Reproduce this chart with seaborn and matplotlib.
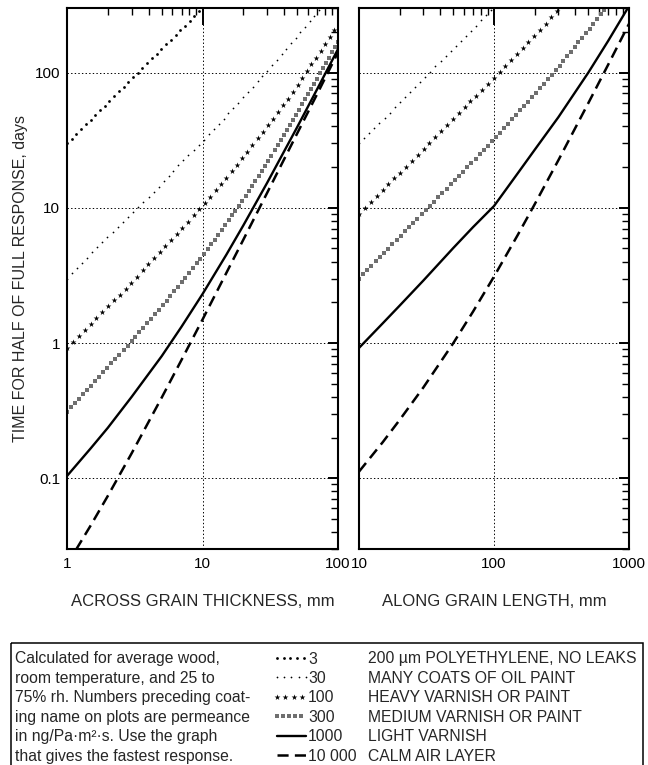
import numpy as np
import matplotlib
matplotlib.use("Agg")
import matplotlib.pyplot as plt
import matplotlib.colors as mcolors
import seaborn as sns
from matplotlib.patheffects import AbstractPathEffect
from matplotlib.markers import MarkerStyle
from matplotlib.path import Path
from matplotlib.transforms import Affine2D, IdentityTransform
from matplotlib.ticker import NullFormatter
from matplotlib.patches import Rectangle

# ---------------- data ----------------
across_x = [1, 1.5, 2, 3, 5, 7, 10, 15, 20, 30, 50, 70, 100]          # mm
t3_across = [30, 45, 60, 90, 150, 210, 300, 450]
t30_across = [3.0, 4.6, 6.1, 9.1, 15, 22, 31, 48, 66, 103, 185, 280, 440]
t100_across = [0.92, 1.38, 1.86, 2.8, 4.9, 7.0, 10.4, 16.7, 24, 40, 80, 132, 230]
t300_across = [0.31, 0.48, 0.66, 1.03, 1.85, 2.8, 4.4, 7.6, 11.6, 21.6, 50, 90, 170]
t1000_across = [0.104, 0.167, 0.236, 0.40, 0.80, 1.32, 2.3, 4.5, 7.4, 15.3, 39.5, 75, 149]
t10000_across = [0.023, 0.045, 0.074, 0.153, 0.395, 0.75, 1.49, 3.3, 5.8, 12.9, 35.5, 69, 141]

along_x = [10, 15, 20, 30, 50, 70, 100, 150, 200, 300, 500, 700, 1000]  # mm
t30_along = [30, 45, 60, 90, 151, 211, 302, 460]
t100_along = [9.0, 13.5, 18.1, 27.2, 45.6, 64, 92, 140, 189, 290, 505]
t300_along = [3.0, 4.55, 6.1, 9.2, 15.6, 22.1, 32, 50, 69, 110, 205, 318]
t1000_along = [0.92, 1.4, 1.89, 2.9, 5.05, 7.2, 10.3, 18.0, 26.8, 46.8, 100, 171, 310]
t10000_along = [0.112, 0.185, 0.27, 0.47, 1.0, 1.71, 3.1, 6.3, 10.6, 22.5, 59.5, 114, 229]

permeances = ["3", "30", "100", "300", "1000", "10 000"]
coatings = ["200 \u00b5m POLYETHYLENE, NO LEAKS", "MANY COATS OF OIL PAINT",
            "HEAVY VARNISH OR PAINT", "MEDIUM VARNISH OR PAINT",
            "LIGHT VARNISH", "CALM AIR LAYER"]
note_lines = ["Calculated for average wood,", "room temperature, and 25 to",
              "75% rh. Numbers preceding coat-", "ing name on plots are permeance",
              "in ng/Pa\u00b7m\u00b2\u00b7s. Use the graph",
              "that gives the fastest response."]
x_ticks_across = [1, 10, 100]
x_ticks_along = [10, 100, 1000]
y_ticks = [0.1, 1, 10, 100]
y_tick_labels = ["0.1", "1", "10", "100"]


# ---------------- marker-along-path effect (style only) ----------------
class MarkersAlong(AbstractPathEffect):
    def __init__(self, marker, spacing, size, color):
        super().__init__()
        self._marker = marker
        self._spacing = spacing
        self._size = size
        self._color = color

    def draw_path(self, renderer, gc, tpath, affine, rgbFace=None):
        verts = affine.transform(tpath.vertices)
        verts = verts[np.all(np.isfinite(verts), axis=1)]
        if len(verts) < 2:
            return
        seg = np.hypot(np.diff(verts[:, 0]), np.diff(verts[:, 1]))
        cum = np.concatenate([[0.0], np.cumsum(seg)])
        step = renderer.points_to_pixels(self._spacing)
        s = np.arange(0.0, cum[-1] + 1e-9, step)
        pts = np.column_stack([np.interp(s, cum, verts[:, 0]),
                               np.interp(s, cum, verts[:, 1])])
        ms = MarkerStyle(self._marker)
        mtrans = ms.get_transform() + Affine2D().scale(renderer.points_to_pixels(self._size))
        gc0 = renderer.new_gc()
        gc0.copy_properties(gc)
        gc0.set_linewidth(0.0)
        gc0.set_dashes(0, None)
        gc0.set_foreground(self._color)
        renderer.draw_markers(gc0, ms.get_path(), mtrans, Path(pts),
                              IdentityTransform(), mcolors.to_rgba(self._color))
        gc0.restore()


styles = {
    "3": dict(color="k", lw=1, path_effects=[MarkersAlong("o", 4.8, 2.0, "black")]),
    "30": dict(color="k", lw=1, path_effects=[MarkersAlong("o", 5.2, 1.25, "black")]),
    "100": dict(color="k", lw=1, path_effects=[MarkersAlong("*", 6.0, 4.4, "black")]),
    "300": dict(color="k", lw=1, path_effects=[MarkersAlong("s", 4.3, 2.4, "#6f6f6f")]),
    "1000": dict(color="k", lw=1.7, linestyle="-"),
    "10 000": dict(color="k", lw=1.8, linestyle=(0, (8, 4.5)), dash_capstyle="butt"),
}

# ---------------- figure ----------------
sns.set_style("white")
plt.rcParams["font.family"] = ["Liberation Sans", "DejaVu Sans"]
plt.rcParams["lines.scale_dashes"] = False

W, H = 648, 765
fig = plt.figure(figsize=(W / 100, H / 100), dpi=100)
fig.patch.set_facecolor("white")

bottom = 1 - 549 / H
height = (549 - 8) / H
axL = fig.add_axes([67 / W, bottom, (338 - 67) / W, height])
axR = fig.add_axes([359 / W, bottom, (629 - 359) / W, height])

series_left = [t3_across, t30_across, t100_across, t300_across, t1000_across, t10000_across]
series_right = [None, t30_along, t100_along, t300_along, t1000_along, t10000_along]

for ax in (axL, axR):
    ax.set_xscale("log")
    ax.set_yscale("log")

for key, ys in zip(permeances, series_left):
    sns.lineplot(x=across_x[:len(ys)], y=ys, ax=axL, estimator=None, sort=False, **styles[key])
for key, ys in zip(permeances, series_right):
    if ys is None:
        continue
    sns.lineplot(x=along_x[:len(ys)], y=ys, ax=axR, estimator=None, sort=False, **styles[key])

axL.set_xlim(1, 100)
axR.set_xlim(10, 1000)
for ax, xt in ((axL, x_ticks_across), (axR, x_ticks_along)):
    ax.set_ylim(0.03, 300)
    ax.set_xticks(xt, [str(v) for v in xt])
    ax.set_yticks(y_ticks, y_tick_labels)
    ax.xaxis.set_minor_formatter(NullFormatter())
    ax.yaxis.set_minor_formatter(NullFormatter())
    ax.grid(True, which="major", color="black", linestyle=(0, (1, 1.6)), lw=0.7)
    ax.tick_params(which="both", direction="in", top=True, right=True, colors="black",
                   labelsize=11)
    ax.tick_params(axis="x", which="major", length=12.5, width=1.4, pad=6)
    ax.tick_params(axis="y", which="major", length=7, width=1.4, pad=5)
    ax.tick_params(which="minor", length=5, width=1.0)
    for sp in ax.spines.values():
        sp.set_linewidth(1.5)
        sp.set_color("black")
    ax.set_facecolor("white")

axR.tick_params(axis="y", which="both", labelleft=False)

axL.set_xlabel("ACROSS GRAIN THICKNESS, mm", fontsize=12)
axR.set_xlabel("ALONG GRAIN LENGTH, mm", fontsize=12)
axL.set_ylabel("TIME FOR HALF OF FULL RESPONSE, days", fontsize=11.5)
axL.xaxis.set_label_coords(0.5, -(594 - 549) / 541)
axR.xaxis.set_label_coords(0.5, -(594 - 549) / 541)
axL.yaxis.set_label_coords(-(67 - 28) / 271, 0.5)

# ---------------- explanatory legend box ----------------
axK = fig.add_axes([0, 0, 1, (H - 630) / H])
axK.set_xlim(0, W)
axK.set_ylim(H, 630)
axK.axis("off")
axK.patch.set_visible(False)
axK.add_patch(Rectangle((11, 643), 632, 140, fill=False, lw=1.1, edgecolor="black",
                        clip_on=True))

row0, pitch = 658.0, 19.45
fs = 11.3
for i, (key, label, note) in enumerate(zip(permeances, coatings, note_lines)):
    yc = row0 + i * pitch
    axK.plot([277, 306], [yc, yc], **styles[key])
    axK.text(308, yc + 5.5, key, fontsize=fs, va="baseline", ha="left")
    axK.text(368, yc + 5.5, label, fontsize=fs, va="baseline", ha="left")
    axK.text(15, yc + 5.5, note, fontsize=fs, va="baseline", ha="left")

fig.savefig("out.png", dpi=100)
